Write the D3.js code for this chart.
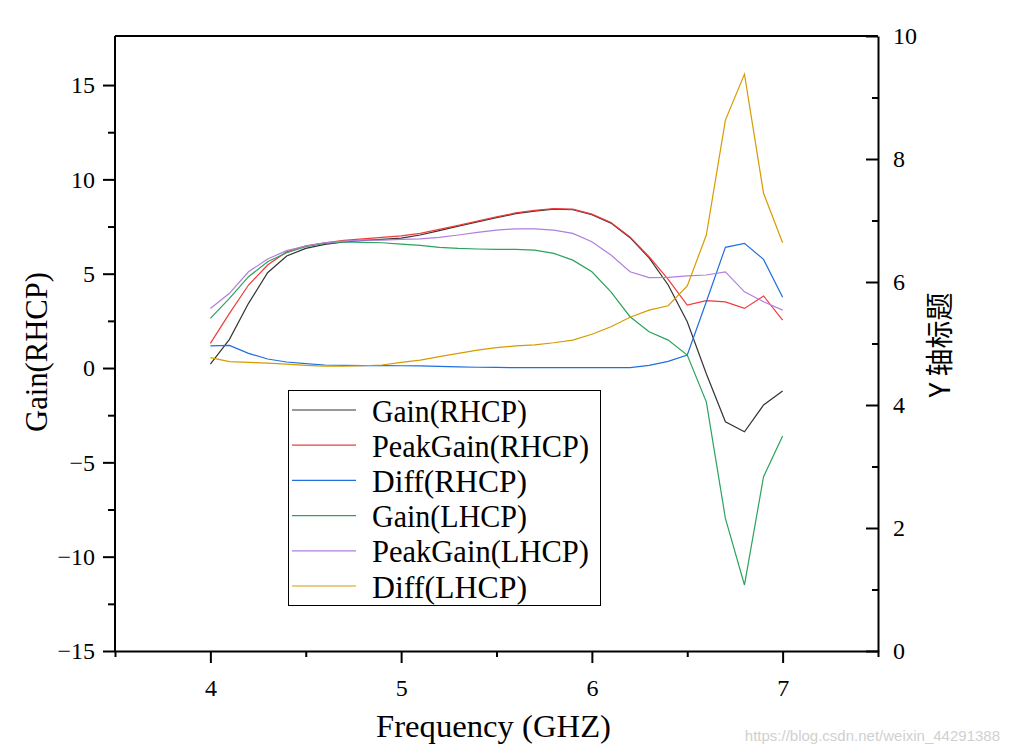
<!DOCTYPE html>
<html><head><meta charset="utf-8">
<script src="https://cdn.jsdelivr.net/npm/d3@7"></script>
<style>body{margin:0;background:#fff}svg{display:block}</style>
</head><body>
<svg id="chart" width="1009" height="754"></svg>
<script>
const freq = [4.0,4.1,4.2,4.3,4.4,4.5,4.6,4.7,4.8,4.9,5.0,5.1,5.2,5.3,5.4,5.5,5.6,5.7,5.8,5.9,6.0,6.1,6.2,6.3,6.4,6.5,6.6,6.7,6.8,6.9,7.0];
const gainRHCP = [0.21,1.52,3.43,5.05,5.94,6.34,6.55,6.68,6.77,6.82,6.89,7.05,7.28,7.52,7.75,7.97,8.18,8.32,8.42,8.39,8.13,7.68,6.91,5.84,4.4,2.45,-0.3,-2.85,-3.38,-1.96,-1.22];
const peakRHCP = [1.31,2.9,4.4,5.46,6.16,6.48,6.64,6.77,6.85,6.93,7.01,7.14,7.35,7.56,7.79,8.01,8.22,8.36,8.45,8.42,8.16,7.71,6.95,5.9,4.7,3.34,3.57,3.51,3.16,3.82,2.54];
const diffRHCP = [1.17,1.2,0.78,0.48,0.32,0.23,0.16,0.14,0.13,0.13,0.12,0.11,0.09,0.06,0.04,0.03,0.02,0.02,0.02,0.02,0.02,0.02,0.02,0.14,0.35,0.69,3.51,6.4,6.61,5.76,3.75];
const gainLHCP = [2.63,3.69,4.84,5.63,6.11,6.43,6.61,6.68,6.66,6.64,6.57,6.5,6.4,6.34,6.31,6.29,6.29,6.25,6.08,5.72,5.1,4.04,2.72,1.92,1.48,0.69,-1.79,-7.97,-11.5,-5.76,-3.6];
const peakLHCP = [3.16,3.96,5.1,5.78,6.22,6.47,6.64,6.73,6.78,6.78,6.82,6.85,6.93,7.05,7.19,7.31,7.38,7.38,7.31,7.14,6.69,5.99,5.1,4.79,4.8,4.88,4.93,5.1,4.04,3.51,3.07];
const diffLHCP = [0.55,0.34,0.3,0.26,0.21,0.14,0.1,0.1,0.12,0.16,0.3,0.42,0.6,0.78,0.95,1.08,1.17,1.23,1.34,1.48,1.79,2.19,2.69,3.07,3.3,4.35,7.05,13.14,15.58,9.26,6.64];
const seriesNames = ["Gain(RHCP)","PeakGain(RHCP)","Diff(RHCP)","Gain(LHCP)","PeakGain(LHCP)","Diff(LHCP)"];
const seriesColors = ["#333333","#f03a3a","#1f6fe0","#2aa35c","#b07ee0","#d69b00"];
const xTicks = [4,5,6,7];
const yLeftTicks = [-15,-10,-5,0,5,10,15];
const yRightTicks = [0,2,4,6,8,10];
const xTitle = "Frequency (GHZ)";
const yLeftTitle = "Gain(RHCP)";
const yRightTitle = "Y 轴标题";

const allSeries = [gainRHCP, peakRHCP, diffRHCP, gainLHCP, peakLHCP, diffLHCP];

const L = 115, R = 878, T = 36, B = 651;
const svg = d3.select("#chart");
const x = d3.scaleLinear().domain([3.5, 7.5]).range([L, R]);
const y = d3.scaleLinear().domain([-15, 17.6]).range([B, T]);
const y2 = d3.scaleLinear().domain([0, 10]).range([B, T]);

const serif = "'Liberation Serif','Times New Roman',serif";

// data lines
const line = d3.line().x((d,i)=>x(freq[i])).y(d=>y(d));
allSeries.forEach((s, k) => {
  svg.append("path").datum(s).attr("d", line)
    .attr("fill","none").attr("stroke", seriesColors[k]).attr("stroke-width",1.2);
});

// frame
svg.append("line").attr("x1",L).attr("x2",R).attr("y1",T).attr("y2",T).attr("stroke","#000").attr("stroke-width",2);

// bottom axis
const gx = svg.append("g").attr("transform",`translate(0,${B})`)
  .call(d3.axisBottom(x).tickValues(xTicks).tickFormat(d3.format("d")).tickSizeInner(12).tickSizeOuter(0).tickPadding(16));
const gxm = svg.append("g").attr("transform",`translate(0,${B})`)
  .call(d3.axisBottom(x).tickValues([3.5,4.5,5.5,6.5,7.5]).tickFormat("").tickSizeInner(6).tickSizeOuter(0));
gxm.select(".domain").remove();

// left axis
const gy = svg.append("g").attr("transform",`translate(${L},0)`)
  .call(d3.axisLeft(y).tickValues(yLeftTicks).tickFormat(d3.format("d")).tickSizeInner(12).tickSizeOuter(0).tickPadding(8));
gy.select(".domain").attr("d",`M0,${T}V${B}`);
const gym = svg.append("g").attr("transform",`translate(${L},0)`)
  .call(d3.axisLeft(y).tickValues([-12.5,-7.5,-2.5,2.5,7.5,12.5]).tickFormat("").tickSizeInner(7).tickSizeOuter(0));
gym.select(".domain").remove();

// right axis (ticks inward)
const gr = svg.append("g").attr("transform",`translate(${R},0)`)
  .call(d3.axisRight(y2).tickValues(yRightTicks).tickFormat(d3.format("d")).tickSizeInner(-12).tickSizeOuter(0).tickPadding(15));
const grm = svg.append("g").attr("transform",`translate(${R},0)`)
  .call(d3.axisRight(y2).tickValues([1,3,5,7,9]).tickFormat("").tickSizeInner(-6).tickSizeOuter(0));
grm.select(".domain").remove();

[gx,gxm,gy,gym,gr,grm].forEach(g=>{
  g.selectAll(".domain").attr("stroke","#000").attr("stroke-width",2);
  g.selectAll(".tick line").attr("stroke","#000").attr("stroke-width",2);
  g.selectAll("text").attr("font-family",serif).attr("font-size",24).attr("fill","#000");
});
gr.selectAll(".tick text").attr("x", 15);

// titles
svg.append("text").attr("x", 376).attr("y", 737)
  .attr("font-family", serif).attr("font-size", 31)
  .attr("textLength", 235).attr("lengthAdjust","spacingAndGlyphs").text(xTitle);
svg.append("text").attr("transform","translate(47,432) rotate(-90)")
  .attr("font-family", serif).attr("font-size", 31)
  .attr("textLength", 160).attr("lengthAdjust","spacingAndGlyphs").text(yLeftTitle);
svg.append("text").attr("transform","translate(950,345) rotate(-90)")
  .attr("text-anchor","middle")
  .attr("font-family", "'Noto Sans CJK SC',sans-serif").attr("font-size", 28).text(yRightTitle);

// legend
const lg = svg.append("g");
lg.append("rect").attr("x",288.5).attr("y",390.5).attr("width",312).attr("height",215)
  .attr("fill","#fff").attr("stroke","#000").attr("stroke-width",1);
const rowY = d3.scaleLinear().domain([0,5]).range([410,586]);
seriesNames.forEach((n,k)=>{
  const yy = rowY(k);
  lg.append("line").attr("x1",292).attr("x2",356).attr("y1",yy).attr("y2",yy)
    .attr("stroke",seriesColors[k]).attr("stroke-width",1.2);
  lg.append("text").attr("x",372).attr("y",yy+11.5)
    .attr("font-family",serif).attr("font-size",31)
    .attr("textLength", n.length*15.5).attr("lengthAdjust","spacingAndGlyphs").text(n);
});

// watermark
svg.append("text").attr("x",1000).attr("y",741).attr("text-anchor","end")
  .attr("font-family","'Liberation Sans',Arial,sans-serif").attr("font-size",15)
  .attr("fill","#d0d0d0").text("https://blog.csdn.net/weixin_44291388");
</script>
</body></html>
